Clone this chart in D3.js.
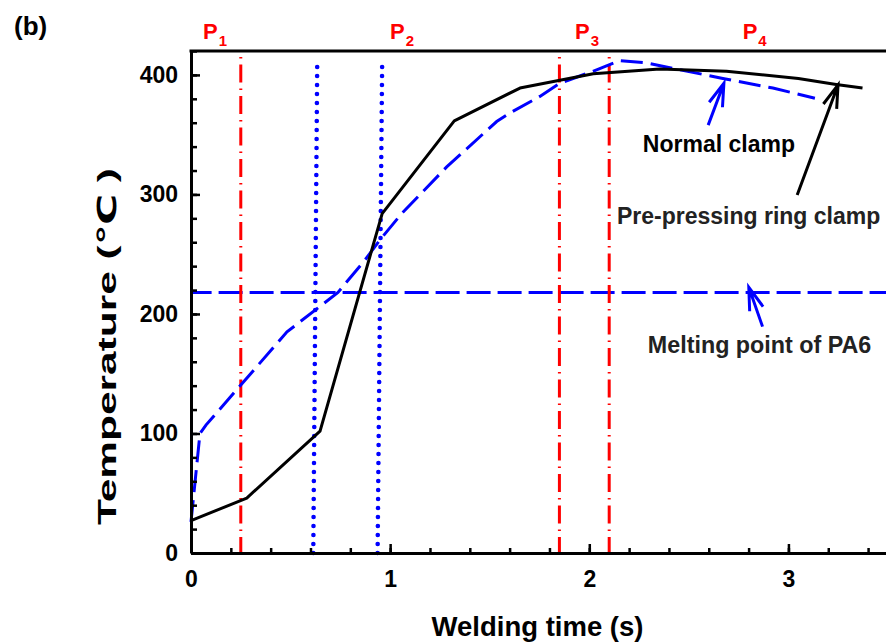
<!DOCTYPE html>
<html>
<head>
<meta charset="utf-8">
<script src="https://cdn.jsdelivr.net/npm/d3@7"></script>
<style>
  html, body { margin: 0; padding: 0; background: #fff; }
  svg { display: block; }
  text { font-family: Arial, "Liberation Sans", "DejaVu Sans", sans-serif; font-weight: bold; }
</style>
</head>
<body>
<svg id="chart" width="886" height="644"></svg>
<script>
// Temperature histories (time in s, temperature in °C)
const normalTime = [0, 0.28, 0.648, 0.96, 1.322, 1.652, 2.02, 2.354, 2.689, 3.05, 3.24, 3.372];
const normalTemp = [27, 46, 102, 284, 361.5, 389, 401, 405, 403, 397, 392, 389];

const ringTime = [0, 0.045, 0.075, 0.482, 0.738, 0.873, 0.949, 1.058, 1.284, 1.535, 1.6, 1.752, 1.852, 2.018, 2.153, 2.288, 2.671, 2.922, 3.133];
const ringTemp = [26, 100, 107, 185, 218, 245, 262, 284, 323, 361, 368, 382, 393, 403, 412, 410, 397, 389, 380.5];

// Melting point of PA6 (°C)
const meltingPoint = 218;

// Stage boundaries (dash-dot) and contact-time markers (dotted, top/bottom times)
const stageBounds = [0.25, 1.85, 2.1];
const dottedMarks = [
  { top: 0.634, bottom: 0.614, topTemp: 413 },
  { top: 0.96, bottom: 0.937, topTemp: 411 }
];
const stageNames = ["1", "2", "3", "4"];
const stageLabelTime = [0.06, 0.999, 1.928, 2.77];

// Axis ticks
const xMajor = [0, 1, 2, 3];
const xMinor = d3.range(0, 3.5001, 0.2);
const yMajor = [0, 100, 200, 300, 400];
const yMinor = d3.range(0, 420.001, 20);

const svg = d3.select("#chart");
const plotLeft = 191, plotRight = 888, plotTop = 51, plotBottom = 553;

const x = d3.scaleLinear().domain([0, 3.5]).range([plotLeft, plotRight]);
const y = d3.scaleLinear().domain([0, 420]).range([plotBottom, plotTop]);

// ---- reference lines ----
const refs = svg.append("g");

// melting point
refs.append("line")
  .attr("x1", x(0)).attr("x2", x(3.5))
  .attr("y1", y(meltingPoint)).attr("y2", y(meltingPoint))
  .attr("stroke", "#0000ff").attr("stroke-width", 3)
  .attr("stroke-dasharray", "24,7").attr("stroke-dashoffset", 3.4);

// stage boundaries
refs.selectAll("line.stage").data(stageBounds).join("line")
  .attr("class", "stage")
  .attr("x1", d => x(d)).attr("x2", d => x(d))
  .attr("y1", y(420)).attr("y2", y(0))
  .attr("stroke", "#ff0000").attr("stroke-width", 3)
  .attr("stroke-dasharray", "1.5,6,18,6").attr("stroke-dashoffset", -6);

// dotted markers
refs.selectAll("line.dot").data(dottedMarks).join("line")
  .attr("class", "dot")
  .attr("x1", d => x(d.bottom)).attr("y1", y(0))
  .attr("x2", d => x(d.top)).attr("y2", d => y(d.topTemp))
  .attr("stroke", "#0000ff").attr("stroke-width", 4.6)
  .attr("stroke-linecap", "round")
  .attr("stroke-dasharray", "0,9");

// ---- curves ----
const line = d3.line().x(d => x(d[0])).y(d => y(d[1]));

svg.append("path")
  .datum(d3.zip(ringTime, ringTemp))
  .attr("d", line)
  .attr("fill", "none").attr("stroke", "#0000ff").attr("stroke-width", 3)
  .attr("stroke-dasharray", "22,8");

svg.append("path")
  .datum(d3.zip(normalTime, normalTemp))
  .attr("d", line)
  .attr("fill", "none").attr("stroke", "#000").attr("stroke-width", 3)
  .attr("stroke-linejoin", "round");

// ---- axes ----
function styleAxis(g, w) {
  g.select(".domain").attr("stroke-width", 3).attr("stroke", "#000");
  g.selectAll(".tick line").attr("stroke-width", w).attr("stroke", "#000");
  g.selectAll(".tick text").attr("font-size", 23).attr("font-weight", "bold").attr("fill", "#000")
    .attr("font-family", 'Arial, "Liberation Sans", sans-serif');
}

svg.append("g").attr("transform", `translate(0,${plotBottom})`)
  .call(d3.axisBottom(x).tickValues(xMinor).tickSize(-5).tickSizeOuter(0).tickFormat(""))
  .call(g => { g.select(".domain").remove(); g.selectAll(".tick line").attr("stroke-width", 2.5); });
svg.append("g").attr("transform", `translate(${plotLeft},0)`)
  .call(d3.axisLeft(y).tickValues(yMinor).tickSize(-6).tickSizeOuter(0).tickFormat(""))
  .call(g => { g.select(".domain").remove(); g.selectAll(".tick line").attr("stroke-width", 2.5); });

svg.append("g").attr("transform", `translate(0,${plotBottom})`)
  .call(d3.axisBottom(x).tickValues(xMajor).tickSize(-9).tickSizeOuter(0).tickPadding(18).tickFormat(d3.format("d")))
  .call(g => styleAxis(g, 2.5));
svg.append("g").attr("transform", `translate(${plotLeft},0)`)
  .call(d3.axisLeft(y).tickValues(yMajor).tickSize(-9).tickSizeOuter(0).tickPadding(13).tickFormat(d3.format("d")))
  .call(g => styleAxis(g, 2.5));

// top and right frame
svg.append("line").attr("x1", x(0) - 1.5).attr("x2", x(3.5)).attr("y1", y(420)).attr("y2", y(420))
  .attr("stroke", "#000").attr("stroke-width", 3);
svg.append("line").attr("x1", x(3.5)).attr("x2", x(3.5)).attr("y1", y(420)).attr("y2", y(0))
  .attr("stroke", "#000").attr("stroke-width", 3);

// ---- titles ----
svg.append("text")
  .attr("x", (x(0) + x(3.5)) / 2 - 2).attr("y", 636)
  .attr("text-anchor", "middle").attr("font-size", 27.5).attr("fill", "#000")
  .text("Welding time (s)");

svg.append("text")
  .attr("transform", "translate(116,346.5) rotate(-90)")
  .attr("text-anchor", "middle").attr("font-size", 26).attr("fill", "#000")
  .attr("textLength", 357).attr("lengthAdjust", "spacingAndGlyphs")
  .text("Temperature (℃ )");

svg.append("text").attr("x", 14).attr("y", 35).attr("font-size", 26).attr("fill", "#000").text("(b)");

// stage labels P1..P4
const stageLbl = svg.selectAll("text.stage").data(stageNames).join("text")
  .attr("class", "stage")
  .attr("x", (d, i) => x(stageLabelTime[i])).attr("y", 39)
  .attr("font-size", 22).attr("fill", "#ff0000");
stageLbl.append("tspan").text("P");
stageLbl.append("tspan").attr("font-size", 15).attr("dx", 1).attr("dy", 7).text(d => d);

// ---- annotations with arrows ----
function arrow(tail, tip, color) {
  const x0 = x(tail[0]), y0 = y(tail[1]), x1 = x(tip[0]), y1 = y(tip[1]);
  const ang = Math.atan2(y0 - y1, x0 - x1);
  const len = 24, spread = 0.3;
  const a1 = [x1 + len * Math.cos(ang - spread), y1 + len * Math.sin(ang - spread)];
  const a2 = [x1 + len * Math.cos(ang + spread), y1 + len * Math.sin(ang + spread)];
  svg.append("path")
    .attr("d", `M${x0},${y0}L${x1},${y1}M${a1[0]},${a1[1]}L${x1},${y1}L${a2[0]},${a2[1]}`)
    .attr("fill", "none").attr("stroke", color).attr("stroke-width", 3)
    .attr("stroke-linejoin", "miter");
}

arrow([2.597, 358], [2.676, 393], "#0000ff");
arrow([3.044, 299.6], [3.249, 391.6], "#000");
arrow([2.87, 189.4], [2.801, 222.3], "#0000ff");

svg.append("text").attr("x", x(2.269)).attr("y", y(335.6)).attr("font-size", 23).attr("fill", "#000").text("Normal clamp");
svg.append("text").attr("x", x(2.139)).attr("y", y(275.3)).attr("font-size", 23).attr("fill", "#222").text("Pre-pressing ring clamp");
svg.append("text").attr("x", x(2.294)).attr("y", y(167.4)).attr("font-size", 23.3).attr("fill", "#222").text("Melting point of PA6");
</script>
</body>
</html>
